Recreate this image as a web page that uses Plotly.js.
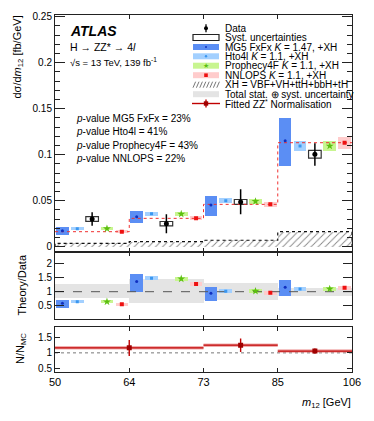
<!DOCTYPE html>
<html>
<head>
<meta charset="utf-8">
<script src="https://cdn.plot.ly/plotly-3.0.1.min.js"></script>
<style>
  html, body { margin: 0; padding: 0; background: #fff; }
  #chart { width: 374px; height: 421px; }
</style>
</head>
<body>
<div id="chart"></div>
<script>
// -------------------- DATA --------------------
// bin edges of m12 [GeV]; bins are drawn with equal width
const binEdges = ["50", "64", "73", "85", "106"];

// main panel: dsigma/dm12 [fb/GeV]
const dataVal = [0.0301, 0.0250, 0.0486, 0.1004];
const dataStatUp = [0.0073, 0.0102, 0.0138, 0.0120];
const dataStatDn = [0.0073, 0.0105, 0.0134, 0.0124];
const dataSyst = [0.0025, 0.0024, 0.0027, 0.0042];

const mg5 = [0.0174, 0.0326, 0.0453, 0.1152];
const mg5Lo = [0.0124, 0.0261, 0.0330, 0.0877];
const mg5Hi = [0.0211, 0.0391, 0.0554, 0.1400];

const hto4l = [0.0196, 0.0359, 0.0499, 0.1095];
const hto4lErr = [0.0017, 0.0023, 0.0027, 0.0050];

const prophecy = [0.0196, 0.0355, 0.0493, 0.1095];
const prophecyErr = [0.0017, 0.0023, 0.0027, 0.0055];

const nnlops = [0.0163, 0.0308, 0.0460, 0.1130];
const nnlopsErr = [0.0017, 0.0022, 0.0025, 0.0064];

const xh = [0.0037, 0.0054, 0.0070, 0.0163];

// ratio panel: theory / data
const totalUncLo = [0.76, 0.61, 0.70, 0.85];
const totalUncHi = [1.275, 1.45, 1.32, 1.14];
const mg5R = [0.585, 1.36, 0.94, 1.16];
const mg5RLo = [0.43, 1.00, 0.68, 0.85];
const mg5RHi = [0.70, 1.63, 1.18, 1.42];
const hto4lR = [0.64, 1.48, 1.02, 1.10];
const hto4lRErr = [0.06, 0.08, 0.07, 0.07];
const prophecyR = [0.64, 1.46, 1.02, 1.10];
const prophecyRErr = [0.06, 0.07, 0.07, 0.07];
const nnlopsR = [0.55, 1.275, 0.96, 1.14];
const nnlopsRErr = [0.06, 0.08, 0.07, 0.08];

// bottom panel: fitted ZZ* normalisation N/N_MC
const normRegions = [["50", "73"], ["73", "85"], ["85", "106"]];
const normVal = [1.165, 1.25, 1.06];
const normErrUp = [0.255, 0.22, 0.08];
const normErrDn = [0.265, 0.22, 0.08];

const pValues = [
  ["MG5 FxFx", "23%"],
  ["Hto4l", "41%"],
  ["Prophecy4F", "43%"],
  ["NNLOPS", "22%"]
];

// -------------------- STYLE --------------------
const FONT = "Liberation Sans, Arial, Helvetica, sans-serif";
const C_MG5 = "#5b8ef4", C_MG5_DOT = "#1030c0";
const C_HTO = "#a3d0ff", C_HTO_DOT = "#3a97f0";
const C_PRO = "#c8f590", C_PRO_DOT = "#5cbf10";
const C_NNL = "#ffcccc", C_NNL_DOT = "#ee1111";
const C_BAND = "#e4e4e4";
const BOX_W = 0.17;
const SLOT = { mg5: 0.1, hto: 0.3, data: 0.5, pro: 0.7, nnl: 0.9 };

const idx = v => v.map((_, i) => i);

function boxBar(xa, ya, lo, hi, slot, color) {
  return {
    type: "bar", xaxis: xa, yaxis: ya,
    x: idx(lo).map(i => i + slot),
    base: lo,
    y: hi.map((h, i) => h - lo[i]),
    width: BOX_W,
    marker: { color: color, line: { width: 0 } },
    hoverinfo: "skip", showlegend: false
  };
}
function boxErr(xa, ya, center, err, slot, color) {
  return boxBar(xa, ya, center.map((c, i) => c - err[i]), center.map((c, i) => c + err[i]), slot, color);
}
function dots(xa, ya, vals, slot, color, symbol, size) {
  return {
    type: "scatter", mode: "markers", xaxis: xa, yaxis: ya,
    x: idx(vals).map(i => i + slot), y: vals,
    marker: { color: color, symbol: symbol, size: size, line: { width: 0 } },
    hoverinfo: "skip", showlegend: false
  };
}
function stepLine(vals) {
  // histogram outline across the bins
  const x = idx(vals).concat([vals.length]);
  const y = vals.concat([vals[vals.length - 1]]);
  return { x: x, y: y };
}

// -------------------- TRACES --------------------
const traces = [];

// main panel
const xhOutline = stepLine(xh);
traces.push({
  type: "bar", xaxis: "x", yaxis: "y",
  x: idx(xh).map(i => i + 0.5), y: xh, width: 1,
  marker: { color: "white", line: { width: 0 },
            pattern: { shape: "/", fgcolor: "#888", bgcolor: "white", size: 5, solidity: 0.18 } },
  hoverinfo: "skip", showlegend: false
});
traces.push({
  type: "scatter", mode: "lines", xaxis: "x", yaxis: "y",
  x: [0].concat(xhOutline.x, [xh.length]),
  y: [0].concat(xhOutline.y, [0]),
  line: { color: "#111", width: 1.2, dash: "dot", shape: "hv" },
  hoverinfo: "skip", showlegend: false
});
traces.push(boxBar("x", "y", mg5Lo, mg5Hi, SLOT.mg5, C_MG5));
traces.push(boxErr("x", "y", hto4l, hto4lErr, SLOT.hto, C_HTO));
traces.push(boxErr("x", "y", prophecy, prophecyErr, SLOT.pro, C_PRO));
traces.push(boxErr("x", "y", nnlops, nnlopsErr, SLOT.nnl, C_NNL));
const nnlStep = stepLine(nnlops);
traces.push({
  type: "scatter", mode: "lines", xaxis: "x", yaxis: "y",
  x: nnlStep.x, y: nnlStep.y,
  line: { color: "#f03030", width: 1, dash: "dot", shape: "hv" },
  hoverinfo: "skip", showlegend: false
});
traces.push(dots("x", "y", mg5, SLOT.mg5, C_MG5_DOT, "circle", 3));
traces.push(dots("x", "y", hto4l, SLOT.hto, C_HTO_DOT, "square", 3));
traces.push(dots("x", "y", prophecy, SLOT.pro, C_PRO_DOT, "star", 6));
traces.push(dots("x", "y", nnlops, SLOT.nnl, C_NNL_DOT, "square", 4));
// data syst box
traces.push({
  type: "bar", xaxis: "x", yaxis: "y",
  x: idx(dataVal).map(i => i + SLOT.data),
  base: dataVal.map((d, i) => d - dataSyst[i]),
  y: dataSyst.map(s => 2 * s),
  width: BOX_W,
  marker: { color: "rgba(255,255,255,0)", line: { color: "#333", width: 1.2 } },
  hoverinfo: "skip", showlegend: false
});
traces.push({
  type: "scatter", mode: "markers", xaxis: "x", yaxis: "y",
  x: idx(dataVal).map(i => i + SLOT.data), y: dataVal,
  error_y: { type: "data", symmetric: false, array: dataStatUp, arrayminus: dataStatDn,
             color: "#000", thickness: 1.5, width: 0 },
  marker: { color: "#000", size: 5 },
  hoverinfo: "skip", showlegend: false
});

// ratio panel
traces.push({
  type: "bar", xaxis: "x2", yaxis: "y2",
  x: idx(totalUncLo).map(i => i + 0.5), base: totalUncLo,
  y: totalUncHi.map((h, i) => h - totalUncLo[i]), width: 1,
  marker: { color: C_BAND, line: { width: 0 } },
  hoverinfo: "skip", showlegend: false
});
traces.push({
  type: "scatter", mode: "lines", xaxis: "x2", yaxis: "y2",
  x: [0, binEdges.length - 1], y: [1, 1],
  line: { color: "#555", width: 1, dash: "dash" },
  hoverinfo: "skip", showlegend: false
});
traces.push(boxBar("x2", "y2", mg5RLo, mg5RHi, SLOT.mg5, C_MG5));
traces.push(boxErr("x2", "y2", hto4lR, hto4lRErr, SLOT.hto, C_HTO));
traces.push(boxErr("x2", "y2", prophecyR, prophecyRErr, SLOT.pro, C_PRO));
traces.push(boxErr("x2", "y2", nnlopsR, nnlopsRErr, SLOT.nnl, C_NNL));
traces.push(dots("x2", "y2", mg5R, SLOT.mg5, C_MG5_DOT, "circle", 3));
traces.push(dots("x2", "y2", hto4lR, SLOT.hto, C_HTO_DOT, "square", 3));
traces.push(dots("x2", "y2", prophecyR, SLOT.pro, C_PRO_DOT, "star", 6));
traces.push(dots("x2", "y2", nnlopsR, SLOT.nnl, C_NNL_DOT, "square", 4));

// bottom panel
traces.push({
  type: "scatter", mode: "lines", xaxis: "x3", yaxis: "y3",
  x: [0, binEdges.length - 1], y: [1, 1],
  line: { color: "#777", width: 1, dash: "dot" },
  hoverinfo: "skip", showlegend: false
});
const segX = [], segY = [];
normRegions.forEach((r, i) => {
  segX.push(binEdges.indexOf(r[0]), binEdges.indexOf(r[1]), null);
  segY.push(normVal[i], normVal[i], null);
});
traces.push({
  type: "scatter", mode: "lines", xaxis: "x3", yaxis: "y3",
  x: segX, y: segY, line: { color: "rgba(230,110,110,0.55)", width: 3.5 },
  hoverinfo: "skip", showlegend: false
});
traces.push({
  type: "scatter", mode: "lines", xaxis: "x3", yaxis: "y3",
  x: segX, y: segY, line: { color: "#c00000", width: 1.3 },
  hoverinfo: "skip", showlegend: false
});
traces.push({
  type: "scatter", mode: "markers", xaxis: "x3", yaxis: "y3",
  x: normRegions.map(r => (binEdges.indexOf(r[0]) + binEdges.indexOf(r[1])) / 2),
  y: normVal,
  error_y: { type: "data", symmetric: false, array: normErrUp, arrayminus: normErrDn,
             color: "#c00000", thickness: 1.4, width: 0 },
  marker: { color: "#a00000", symbol: "square", size: 5 },
  hoverinfo: "skip", showlegend: false
});

// -------------------- LAYOUT --------------------
const W = 374, H = 421, ML = 55, MR = 22, MT = 15, MB = 49;
const px = x => (x - ML) / (W - ML - MR);
const py = y => (H - MB - y) / (H - MT - MB);

const axisCommon = {
  showline: true, linecolor: "#222", linewidth: 1, mirror: "ticks",
  ticks: "inside", tickcolor: "#222", showgrid: false, zeroline: false,
  tickfont: { family: FONT, size: 10, color: "#000" }
};
const xCommon = Object.assign({}, axisCommon, {
  range: [0, binEdges.length - 1],
  tickvals: idx(binEdges), ticktext: binEdges, ticklen: 4
});

const shapes = [];
const annotations = [];
function rect(x0, y0, x1, y1, fill, line) {
  shapes.push({ type: "rect", xref: "paper", yref: "paper",
    x0: px(x0), x1: px(x1), y0: py(y0), y1: py(y1),
    fillcolor: fill, line: line || { width: 0 } });
}
function seg(x0, y0, x1, y1, color, width, dash) {
  shapes.push({ type: "line", xref: "paper", yref: "paper",
    x0: px(x0), x1: px(x1), y0: py(y0), y1: py(y1),
    line: { color: color, width: width, dash: dash || "solid" } });
}
function dot(x, y, r, color) {
  shapes.push({ type: "circle", xref: "paper", yref: "paper",
    x0: px(x - r), x1: px(x + r), y0: py(y + r), y1: py(y - r),
    fillcolor: color, line: { width: 0 } });
}
function label(x, y, text, size, opts) {
  annotations.push(Object.assign({
    xref: "paper", yref: "paper", x: px(x), y: py(y), text: text,
    showarrow: false, xanchor: "left", yanchor: "middle", borderpad: 0,
    font: { family: FONT, size: size, color: "#000" }
  }, opts || {}));
}

// legend
const LX0 = 193, LX1 = 219, LXC = 206, TX = 224;
const rows = [28.3, 37.5, 47, 56.3, 65.7, 75.2, 84.7, 94.2, 103.5];
const legendText = [
  "Data",
  "Syst. uncertainties",
  "MG5 FxFx <i>K</i> = 1.47, +XH",
  "Hto4l <i>K</i> = 1.1, +XH",
  "Prophecy4F <i>K</i> = 1.1, +XH",
  "NNLOPS <i>K</i> = 1.1, +XH",
  "XH = VBF+VH+ttH+bbH+tH",
  "Total stat. ⊕ syst. uncertainty",
  "Fitted ZZ<sup>*</sup> Normalisation"
];
legendText.forEach((t, i) => label(TX, rows[i], t, 10));
seg(LXC, rows[0] - 4, LXC, rows[0] + 4, "#000", 1.3);
dot(LXC, rows[0], 2, "#000");
rect(LX0, rows[1] - 3, LX1, rows[1] + 3, "white", { color: "#222", width: 1.2 });
rect(LX0, rows[2] - 3, LX1, rows[2] + 3, C_MG5);
dot(LXC, rows[2], 1, C_MG5_DOT);
rect(LX0, rows[3] - 3, LX1, rows[3] + 3, C_HTO);
dot(LXC, rows[3], 1.2, C_HTO_DOT);
rect(LX0, rows[4] - 3, LX1, rows[4] + 3, C_PRO);
label(LXC, rows[4] + 0.5, "★", 7, { xanchor: "center", font: { family: "DejaVu Sans", size: 7, color: C_PRO_DOT } });
rect(LX0, rows[5] - 3, LX1, rows[5] + 3, C_NNL);
rect(LXC - 1.8, rows[5] - 1.8, LXC + 1.8, rows[5] + 1.8, C_NNL_DOT);
for (let k = 0; k < 8; k++) {
  const x = LX0 + k * 3.4;
  seg(x, rows[6] + 3, x + 2.6, rows[6] - 3, "#555", 0.8);
}
rect(LX0, rows[7] - 3, LX1, rows[7] + 3, C_BAND);
seg(LX0 - 1, rows[8], LX1 + 1, rows[8], "#c00000", 1.4);
seg(LXC, rows[8] - 4, LXC, rows[8] + 4, "#c00000", 1.4);
rect(LXC - 2.2, rows[8] - 2.2, LXC + 2.2, rows[8] + 2.2, "#a00000");

// ATLAS label and text
label(69, 31, "<b><i>ATLAS</i></b>", 14);
label(69, 47, "H → ZZ* → 4<i>l</i>", 10.5);
label(69, 62, "√s = 13 TeV, 139 fb<sup>-1</sup>", 9.5);
pValues.forEach((p, i) =>
  label(75, 118.7 + i * 13.2, "<i>p</i>-value " + p[0] + " = " + p[1], 10));

// axis titles
label(17, 15, "dσ/d<i>m</i><sub>12</sub> [fb/GeV]", 11,
  { textangle: -90, xanchor: "center", yanchor: "top" });
label(21, 254, "Theory/Data", 11,
  { textangle: -90, xanchor: "center", yanchor: "top" });
label(21, 349, "N/N<sub>MC</sub>", 11,
  { textangle: -90, xanchor: "center", yanchor: "middle" });
label(352, 403, "<i>m</i><sub>12</sub> [GeV]", 11, { xanchor: "right" });

const layout = {
  width: W, height: H,
  margin: { l: ML, r: MR, t: MT, b: MB },
  paper_bgcolor: "#fff", plot_bgcolor: "rgba(0,0,0,0)",
  barmode: "overlay", bargap: 0,
  showlegend: false,
  font: { family: FONT, size: 10, color: "#000" },
  xaxis: Object.assign({}, xCommon, { anchor: "y", showticklabels: false, matches: "x3" }),
  xaxis2: Object.assign({}, xCommon, { anchor: "y2", showticklabels: false, matches: "x3" }),
  xaxis3: Object.assign({}, xCommon, { anchor: "y3", tickfont: { family: FONT, size: 11, color: "#000" } }),
  yaxis: Object.assign({}, axisCommon, {
    domain: [py(252.3), 1], range: [-0.0061, 0.2518],
    tickvals: [0, 0.05, 0.1, 0.15, 0.2, 0.25], ticklen: 10,
    minor: { dtick: 0.01, ticklen: 5, ticks: "inside", tickcolor: "#222" }
  }),
  yaxis2: Object.assign({}, axisCommon, {
    domain: [py(319.3), py(252.3)], range: [0.014, 2.407],
    tickvals: [0.5, 1, 1.5, 2], ticklen: 9
  }),
  yaxis3: Object.assign({}, axisCommon, {
    domain: [0, py(327.3)], range: [0.375, 1.835],
    tickvals: [0.5, 1, 1.5], ticklen: 5
  }),
  shapes: shapes,
  annotations: annotations
};

Plotly.newPlot("chart", traces, layout, { staticPlot: true, displayModeBar: false });
</script>
</body>
</html>
